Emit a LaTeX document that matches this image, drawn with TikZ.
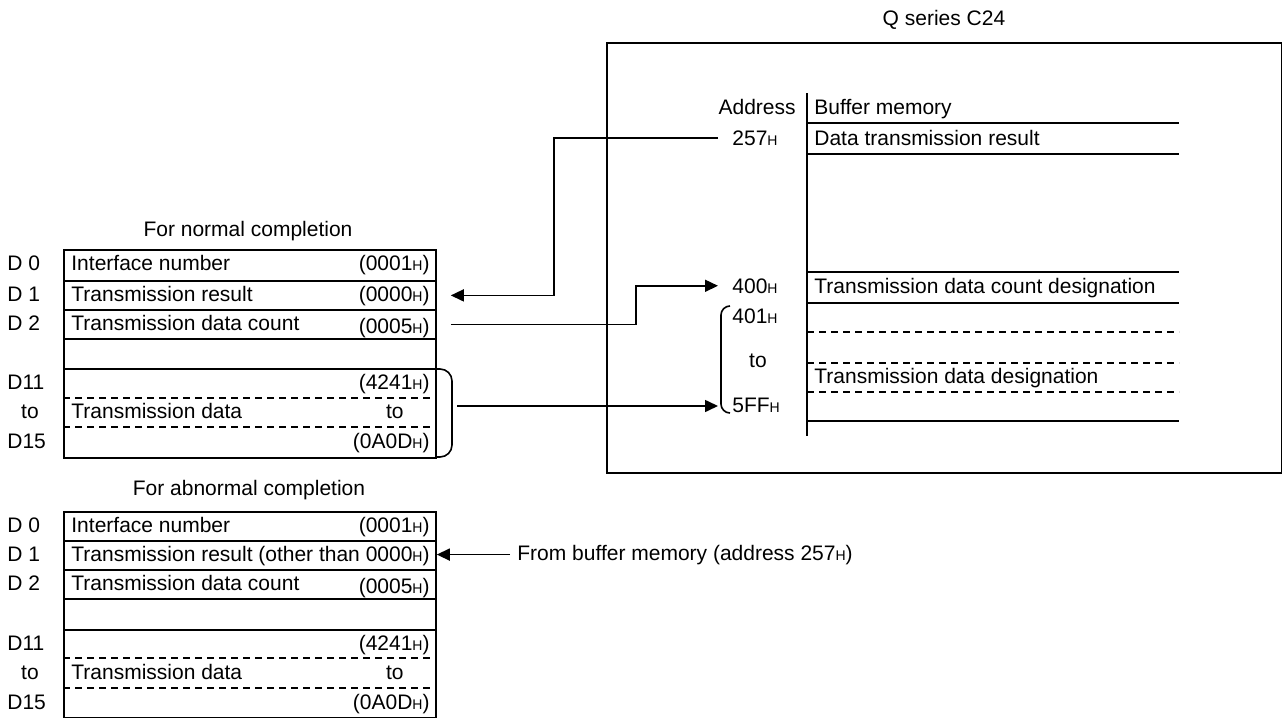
\documentclass[tikz,border=0pt]{standalone}
\usepackage{fontspec}
\setmainfont{Liberation Sans}
\usetikzlibrary{arrows.meta,calc}
\newcommand{\hsub}{{\fontsize{7pt}{7pt}\selectfont H}}
\begin{document}
\begin{tikzpicture}[x=0.5pt,y=-0.5pt,
  every node/.style={font=\fontsize{10.5pt}{12pt}\selectfont, inner sep=0pt},
  rowbox/.style={draw, line width=0.9pt, minimum width=186pt, anchor=north west, inner sep=0pt},
  txt/.style={anchor=base west},
  val/.style={anchor=base east},
  lbl/.style={anchor=base west},
  addr/.style={anchor=base west, inner xsep=7pt},
  sepline/.style={line width=0.9pt},
  dashline/.style={line width=0.9pt, dash pattern=on 3.5pt off 2.5pt},
  conn/.style={line width=0.8pt},
  arr/.style={conn, -{Triangle[length=6.5pt,width=6pt]}}
]
\useasboundingbox (0,0) rectangle (1282,718);

% headings
\node[anchor=base] (hnorm) at (248,236) {For normal completion};
\node[anchor=base] (habn) at (249,495) {For abnormal completion};
\node[anchor=base] (hq) at (944,25) {Q series C24};

% ---------- top table (normal completion) ----------
\node[rowbox, minimum height=15.5pt] (r0) at (63,249) {};
\node[rowbox, minimum height=14.5pt] (r1) at (63,280) {};
\node[rowbox, minimum height=14.5pt] (r2) at (63,309) {};
\node[rowbox, minimum height=15pt] (r3) at (63,338) {};
\node[rowbox, minimum height=44.5pt] (rd) at (63,368) {};
\draw[dashline] (63,398) -- (435,398);
\draw[dashline] (63,427) -- (435,427);

\node[lbl] (l0) at (7,270) {D 0};
\node[lbl] (l1) at (7,301) {D 1};
\node[lbl] (l2) at (7,330) {D 2};
\node[lbl] (l11) at (7,389) {D11};
\node[anchor=base] (lto) at (30,418) {to};
\node[lbl] (l15) at (7,448) {D15};

\node[txt] (t0) at (71,270) {Interface number};
\node[val] (v0) at (430,270) {(0001\hsub)};
\node[txt] (t1) at (71,301) {Transmission result};
\node[val] (v1) at (430,301) {(0000\hsub)};
\node[txt] (t2) at (71,330) {Transmission data count};
\node[val] (v2) at (430,333) {(0005\hsub)};
\node[val] (v11) at (430,389) {(4241\hsub)};
\node[txt] (td) at (71,418) {Transmission data};
\node[val] (vto) at (404,418) {to};
\node[val] (v15) at (430,448) {(0A0D\hsub)};

\draw[conn, rounded corners=6pt] (437,369) -- (452,369) -- (452,457) -- (437,457);
\coordinate (brc) at (457,406);

% ---------- bottom table (abnormal completion) ----------
\node[rowbox, minimum height=14.5pt] (s0) at (63,511) {};
\node[rowbox, minimum height=14.5pt] (s1) at (63,540) {};
\node[rowbox, minimum height=14.5pt] (s2) at (63,569) {};
\node[rowbox, minimum height=15.5pt] (s3) at (63,598) {};
\node[rowbox, minimum height=44pt] (sd) at (63,629) {};
\draw[dashline] (63,658) -- (435,658);
\draw[dashline] (63,688) -- (435,688);

\node[lbl] (m0) at (7,532) {D 0};
\node[lbl] (m1) at (7,561) {D 1};
\node[lbl] (m2) at (7,590) {D 2};
\node[lbl] (m11) at (7,650) {D11};
\node[anchor=base] (mto) at (30,679) {to};
\node[lbl] (m15) at (7,709) {D15};

\node[txt] (u0) at (71,532) {Interface number};
\node[val] (w0) at (430,532) {(0001\hsub)};
\node[txt] (u1) at (71,561) {Transmission result};
\node[val] (w1) at (430,561) {(other than 0000\hsub)};
\node[txt] (u2) at (71,590) {Transmission data count};
\node[val] (w2) at (430,593) {(0005\hsub)};
\node[val] (w11) at (430,650) {(4241\hsub)};
\node[txt] (ud) at (71,679) {Transmission data};
\node[val] (wto) at (404,679) {to};
\node[val] (w15) at (430,709) {(0A0D\hsub)};

% ---------- Q series C24 ----------
\node[draw, line width=0.9pt, anchor=north west, minimum width=337.5pt, minimum height=215pt] (qbox) at (606,42) {};

\draw[sepline] (807,93) -- (807,436);
\foreach \yy in {123,154,272,303,421} \draw[sepline] (807,\yy) -- (1179,\yy);
\foreach \yy in {332,363,392} \draw[dashline] (807,\yy) -- (1179,\yy);

\node[val] (haddr) at (796,114) {Address};
\node[txt] (hbuf) at (814,114) {Buffer memory};
\node[txt] (bm0) at (814,145) {Data transmission result};
\node[txt] (bm1) at (814,293) {Transmission data count designation};
\node[txt] (bm2) at (814,383) {Transmission data designation};

\node[addr] (a257) at (718,145) {257\hsub};
\node[addr] (a400) at (718,293) {400\hsub};
\node[addr] (a401) at (718,323) {401\hsub};
\node[anchor=base] (ato) at (758,367) {to};
\node[addr] (a5ff) at (718,412) {5FF\hsub};

\draw[conn, rounded corners=4.5pt] (730,306) -- (721,306) -- (721,413) -- (730,413);

% ---------- connectors ----------
\coordinate (k1) at (554,200);
\coordinate (k2) at (636,300);
\draw[arr, shorten >=7pt] (a257.west) -| (k1) |- (r1.east);
\draw[arr, shorten <=7pt] (r2.east) -| (k2) |- (a400.west);
\draw[arr] (brc) -- (brc -| a5ff.west);

\node[anchor=base west, inner xsep=3.5pt] (from) at (510,560) {From buffer memory (address 257\hsub)};
\draw[arr] (from.west) -- (from.west -| s1.east);
\end{tikzpicture}
\end{document}
